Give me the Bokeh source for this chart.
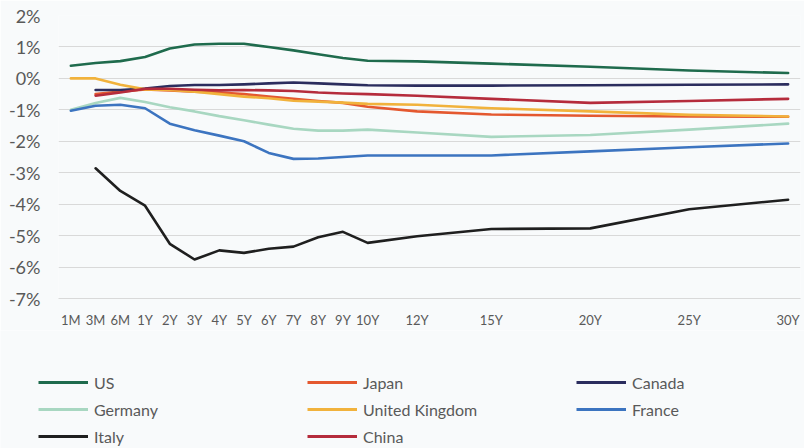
from bokeh.plotting import figure
from bokeh.models import FixedTicker, Range1d, Legend, LegendItem, PrintfTickFormatter
from bokeh.embed import file_html
from bokeh.resources import INLINE

nan = float("nan")

# Tenors and the category slot each tenor occupies on the axis
tenors = ["1M", "3M", "6M", "1Y", "2Y", "3Y", "4Y", "5Y", "6Y", "7Y", "8Y", "9Y", "10Y",
          "12Y", "15Y", "20Y", "25Y", "30Y"]
tenor_slot = [0, 1, 2, 3, 4, 5, 6, 7, 8, 9, 10, 11, 12, 14, 17, 21, 25, 29]

y_ticks = [-7, -6, -5, -4, -3, -2, -1, 0, 1, 2]

us = [0.40, 0.49, 0.55, 0.68, 0.95, 1.08, 1.10, 1.10, 1.00, 0.89, 0.77, 0.65, 0.56, 0.54, 0.47, 0.37, 0.25, 0.17]
japan = [nan, -0.50, -0.42, -0.35, -0.38, -0.42, -0.45, -0.50, -0.58, -0.65, -0.72, -0.78, -0.90, -1.05, -1.15, -1.19, -1.21, -1.22]
canada = [nan, -0.37, -0.37, -0.32, -0.24, -0.21, -0.21, -0.19, -0.16, -0.13, -0.16, -0.19, -0.22, -0.23, -0.23, -0.22, -0.20, -0.19]
germany = [-1.00, -0.78, -0.62, -0.75, -0.92, -1.05, -1.20, -1.33, -1.47, -1.60, -1.66, -1.66, -1.63, -1.72, -1.86, -1.80, -1.63, -1.44]
uk = [0.00, 0.00, -0.20, -0.35, -0.37, -0.42, -0.50, -0.58, -0.63, -0.71, -0.74, -0.77, -0.81, -0.84, -0.95, -1.05, -1.16, -1.21]
france = [-1.03, -0.87, -0.84, -0.95, -1.44, -1.65, -1.82, -2.00, -2.37, -2.56, -2.55, -2.50, -2.45, -2.45, -2.45, -2.32, -2.19, -2.07]
italy = [nan, -2.86, -3.58, -4.05, -5.26, -5.76, -5.47, -5.55, -5.42, -5.35, -5.05, -4.88, -5.23, -5.02, -4.79, -4.77, -4.16, -3.86]
china = [nan, -0.55, -0.45, -0.33, -0.33, -0.36, -0.38, -0.37, -0.38, -0.40, -0.45, -0.48, -0.50, -0.55, -0.65, -0.78, -0.72, -0.65]

names = ["US", "Japan", "Canada", "Germany", "United Kingdom", "France", "Italy", "China"]
values = [us, japan, canada, germany, uk, france, italy, china]
colors = ["#1f6b4d", "#e4582f", "#2b2d5e", "#a8d7c1", "#f1b23c", "#3c74c0", "#1f1f1f", "#b52c3c"]

# legend columns (reading order across three columns)
legend_columns = [["US", "Germany", "Italy"], ["Japan", "United Kingdom", "China"], ["Canada", "France"]]

BG = "#f8fafb"
FONT = "Lato"
TXT = "#595959"

p = figure(width=804, height=330, x_range=Range1d(-0.5, 29.5), y_range=Range1d(-7, 2),
           output_backend="svg", toolbar_location=None,
           min_border_left=58, min_border_right=4, min_border_top=15, min_border_bottom=30)
p.background_fill_color = BG
p.border_fill_color = BG
p.outline_line_color = None

for name, vals, col in zip(names, values, colors):
    p.line(tenor_slot, vals, line_color=col, line_width=2.6, line_join="round", line_cap="round")

p.xaxis.ticker = FixedTicker(ticks=tenor_slot)
p.xaxis.major_label_overrides = {s: t for s, t in zip(tenor_slot, tenors)}
p.xaxis.axis_line_color = "#d9d9d9"
p.xaxis.major_tick_line_color = None
p.xaxis.minor_tick_line_color = None
p.xaxis.major_tick_out = 0
p.xaxis.major_tick_in = 0
p.xaxis.major_label_standoff = 13
p.xaxis.major_label_text_font = FONT
p.xaxis.major_label_text_font_size = "13px"
p.xaxis.major_label_text_color = TXT

p.yaxis.ticker = FixedTicker(ticks=y_ticks)
p.yaxis.formatter = PrintfTickFormatter(format="%d%%")
p.yaxis.axis_line_color = None
p.yaxis.major_tick_line_color = None
p.yaxis.minor_tick_line_color = None
p.yaxis.major_tick_out = 0
p.yaxis.major_tick_in = 0
p.yaxis.major_label_standoff = 18
p.yaxis.major_label_text_font = FONT
p.yaxis.major_label_text_font_size = "18px"
p.yaxis.major_label_text_color = TXT

p.xgrid.visible = False
p.ygrid.ticker = FixedTicker(ticks=y_ticks)
p.ygrid.grid_line_color = "#d9d9d9"
p.ygrid.grid_line_width = 1

# Legend panel (separate root placed directly under the chart)
LG_H = 118
lg = figure(width=804, height=LG_H, x_range=Range1d(0, 1), y_range=Range1d(0, 1),
            output_backend="svg", toolbar_location=None, min_border=0,
            x_axis_type=None, y_axis_type=None)
lg.background_fill_color = BG
lg.border_fill_color = BG
lg.outline_line_color = None

rend = {}
for name, col in zip(names, colors):
    rend[name] = lg.line(x=[nan], y=[nan], line_color=col, line_width=3)

col_x = [38, 307, 576]
TOP = 42
for cx, col_names in zip(col_x, legend_columns):
    n = len(col_names)
    h = n * 20 + (n - 1) * 7
    leg = Legend(items=[LegendItem(label=nm, renderers=[rend[nm]]) for nm in col_names],
                 location=(cx, LG_H - TOP - h), orientation="vertical",
                 glyph_width=50, glyph_height=20, label_height=20, label_standoff=6,
                 spacing=7, padding=0, margin=0,
                 border_line_color=None, background_fill_alpha=0,
                 label_text_font=FONT, label_text_font_size="16px", label_text_color=TXT)
    lg.add_layout(leg)

open("out.html", "w").write(file_html([p, lg], INLINE))
